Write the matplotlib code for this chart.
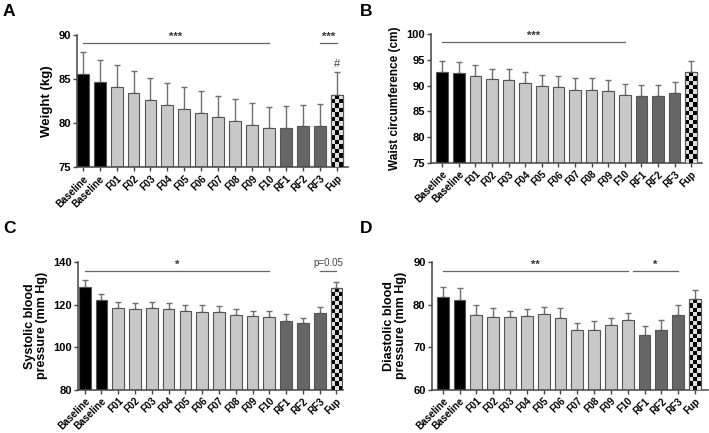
import numpy as np
from matplotlib import pyplot as plt

plt.rcParams['font.family'] = ['Liberation Sans', 'DejaVu Sans']

labels = ['Baseline', 'Baseline', 'F01', 'F02', 'F03', 'F04', 'F05', 'F06', 'F07',
          'F08', 'F09', 'F10', 'RF1', 'RF2', 'RF3', 'Fup']

weight = [85.6, 84.7, 84.05, 83.4, 82.65, 82.1, 81.6, 81.1, 80.65, 80.25, 79.8, 79.4, 79.5, 79.65, 79.7, 83.25]
weight_err = [2.5, 2.5, 2.5, 2.5, 2.45, 2.45, 2.45, 2.5, 2.45, 2.45, 2.45, 2.45, 2.45, 2.45, 2.5, 2.5]

waist = [92.7, 92.4, 91.9, 91.2, 91.1, 90.5, 89.9, 89.7, 89.2, 89.1, 88.9, 88.2, 88.0, 88.0, 88.6, 92.6]
waist_err = [2.1, 2.1, 2.1, 2.1, 2.2, 2.1, 2.1, 2.1, 2.2, 2.3, 2.2, 2.2, 2.2, 2.2, 2.1, 2.1]

systolic = [128.4, 122.2, 118.3, 118.0, 118.6, 117.9, 117.1, 116.6, 116.3, 114.9, 114.5, 114.3, 112.5, 111.1, 116.2, 127.6]
systolic_err = [2.9, 2.9, 2.8, 2.8, 2.8, 2.6, 2.8, 3.0, 3.1, 2.8, 2.7, 2.9, 3.0, 2.7, 2.7, 2.8]

diastolic = [81.8, 81.1, 77.6, 77.0, 77.0, 77.3, 77.7, 76.9, 74.1, 74.0, 75.1, 76.3, 72.9, 74.1, 77.6, 81.2]
diastolic_err = [2.3, 2.7, 2.2, 2.3, 1.5, 1.7, 1.8, 2.3, 1.5, 2.1, 1.7, 1.8, 2.1, 2.2, 2.3, 2.2]

# significance brackets: (from bar, to bar, height, text)
sig_a = [(0, 11, 89.1, '***'), (14, 15, 89.1, '***')]
sig_b = [(0, 11, 98.4, '***')]
sig_c = [(0, 11, 135.6, '*'), (14, 15, 135.6, 'p=0.05')]
sig_d = [(0, 11, 87.9, '**'), (11.3, 14, 87.9, '*')]

colors = ['black'] * 2 + ['#c8c8c8'] * 10 + ['#666666'] * 3 + ['white']

fig = plt.figure(figsize=(7.09, 4.33), dpi=100)


def panel(rect, vals, errs, ylim, yticks, ylabel, ylab_size, sigs, xlim, letter, letter_pos):
    ax = fig.add_axes(rect)
    x = np.arange(len(vals))
    ax.errorbar(x, vals, yerr=[np.zeros(len(vals)), errs], fmt='none',
                ecolor='#707070', elinewidth=1, capsize=2.5, capthick=1, zorder=1)
    bars = ax.bar(x, np.array(vals) - ylim[0], bottom=ylim[0], width=0.7, color=colors,
                  edgecolor='#555555', linewidth=0.8, zorder=2)
    # checkerboard for Fup
    p = bars[-1]
    h = p.get_height()
    nrows = int(round(h / (ylim[1] - ylim[0]) * 30))
    board = (np.indices((nrows, 3)).sum(axis=0) % 2).astype(float)
    im = ax.imshow(board, cmap='gray_r', vmin=-0.15, vmax=1,
                   extent=[p.get_x(), p.get_x() + p.get_width(), ylim[0], ylim[0] + h],
                   aspect='auto', interpolation='nearest', zorder=3)
    im.set_clip_path(p)
    ax.bar(x[-1:], [h], bottom=ylim[0], width=0.7, fill=False,
           edgecolor='#555555', linewidth=0.8, zorder=4)
    for a, b, y, t in sigs:
        ax.plot([a, b], [y, y], color='#666666', lw=0.9, clip_on=False)
        if t.startswith('p'):
            ax.text((a + b) / 2, y + (ylim[1] - ylim[0]) * 0.03, t, ha='center', va='bottom',
                    fontsize=7, color='#444444')
        else:
            ax.text((a + b) / 2, y + (ylim[1] - ylim[0]) * 0.01, t, ha='center', va='bottom',
                    fontsize=8, fontweight='bold', color='#333333')
    ax.set_ylim(*ylim)
    ax.set_xlim(*xlim)
    ax.set_yticks(yticks)
    ax.set_xticks(x)
    ax.set_xticklabels(labels, rotation=45, ha='right', rotation_mode='anchor',
                       fontsize=7, fontweight='bold')
    for t in ax.get_yticklabels():
        t.set_fontweight('bold')
        t.set_fontsize(8)
    ax.tick_params(axis='both', direction='out', length=3, width=1, color='#444444', pad=1.5)
    ax.set_ylabel(ylabel, fontsize=ylab_size, fontweight='bold', labelpad=4, linespacing=1.0)
    for s in ['top', 'right']:
        ax.spines[s].set_visible(False)
    for s in ['left', 'bottom']:
        ax.spines[s].set_linewidth(1.1)
        ax.spines[s].set_color('#444444')
    fig.text(letter_pos[0], letter_pos[1], letter, fontsize=12.5, fontweight='bold', ha='left', va='top')
    return ax


ax_a = panel([0.109, 0.614, 0.382, 0.305], weight, weight_err, (75, 90), [75, 80, 85, 90],
             'Weight (kg)', 9.5, sig_a, (-0.32, 15.67), 'A', (0.004, 0.99))
ax_a.text(15, 86.1, '#', ha='center', va='bottom', fontsize=8, color='#444444')
panel([0.608, 0.624, 0.382, 0.297], waist, waist_err, (75, 100), [75, 80, 85, 90, 95, 100],
      'Waist circumference (cm)', 8.5, sig_b, (-0.67, 15.64), 'B', (0.508, 0.99))
panel([0.110, 0.1, 0.374, 0.295], systolic, systolic_err, (80, 140), [80, 100, 120, 140],
      'Systolic blood\npressure (mm Hg)', 9, sig_c, (-0.4, 15.4), 'C', (0.004, 0.49))
panel([0.609, 0.1, 0.389, 0.295], diastolic, diastolic_err, (60, 90), [60, 70, 80, 90],
      'Diastolic blood\npressure (mm Hg)', 9, sig_d, (-0.65, 15.75), 'D', (0.508, 0.49))

plt.savefig('out.png', dpi=100)
